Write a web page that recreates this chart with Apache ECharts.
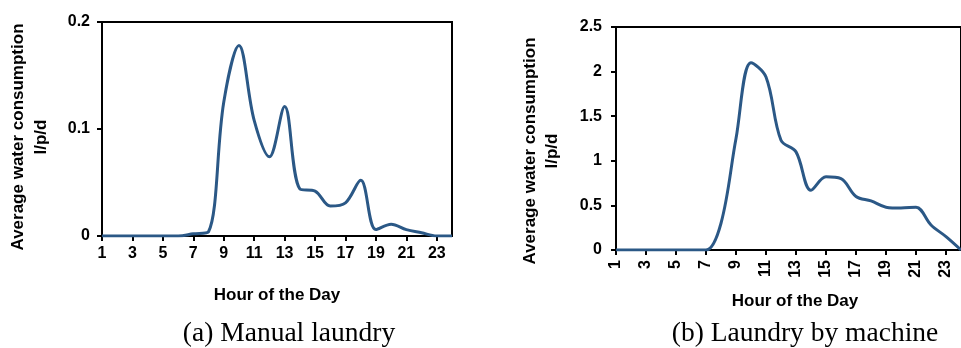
<!DOCTYPE html>
<html>
<head>
<meta charset="utf-8">
<script src="https://cdn.jsdelivr.net/npm/echarts@6/dist/echarts.min.js"></script>
<style>html,body{margin:0;padding:0;background:#fff}#c{width:961px;height:348px}</style>
</head>
<body>
<div id="c"></div>
<script>
var hours = ['1','2','3','4','5','6','7','8','9','10','11','12','13','14','15','16','17','18','19','20','21','22','23','24'];
var manualLaundry = [0,0,0,0,0,0,0.002,0.004,0.125,0.178,0.108,0.074,0.121,0.044,0.042,0.028,0.031,0.052,0.006,0.011,0.006,0.003,0,0];
var machineLaundry = [0,0,0,0,0,0,0,0.3,1.25,2.1,1.94,1.23,1.10,0.67,0.82,0.80,0.60,0.55,0.48,0.47,0.48,0.28,0.15,0];
var yTitle = 'Average water consumption\nl/p/d';
var xTitle = 'Hour of the Day';
var captionA = '(a) Manual laundry';
var captionB = '(b) Laundry by machine';

var LINE = '#2b5886';
var SANS = 'Liberation Sans, Arial, sans-serif';
var SERIF = 'Liberation Serif, Times New Roman, serif';

function xAx(gi, rotate){
  return {
    type:'category', gridIndex:gi, data:hours, boundaryGap:false,
    axisLine:{lineStyle:{color:'#000',width:2}},
    axisTick:{show:true, interval:1, length:5, lineStyle:{color:'#000',width:2}},
    axisLabel:{interval:1, rotate:rotate, margin:10, color:'#000', fontWeight:'bold', fontSize:16, fontFamily:SANS},
    splitLine:{show:false}
  };
}
function yAx(gi, max, interval, margin){
  return {
    type:'value', gridIndex:gi, min:0, max:max, interval:interval,
    axisLine:{show:true, lineStyle:{color:'#000',width:2}},
    axisTick:{show:true, length:5, lineStyle:{color:'#000',width:2}},
    axisLabel:{margin:margin, color:'#000', fontWeight:'bold', fontSize:16, fontFamily:SANS},
    splitLine:{show:false}
  };
}
function txt(x,y,text,font,size,weight,rot,lh){
  return {type:'text', x:x, y:y, rotation:rot||0, silent:true,
    style:{text:text, x:0, y:0, align:'center', verticalAlign:'middle', fill:'#000',
      font: weight+' '+size+'px '+font, lineHeight: lh||size*1.2}};
}

var chart = echarts.init(document.getElementById('c'), null, {renderer:'canvas'});
chart.setOption({
  animation:false,
  backgroundColor:'#fff',
  grid:[
    {left:102, top:22, width:350, height:214, show:true, borderColor:'#000', borderWidth:2, backgroundColor:'transparent'},
    {left:616, top:27, width:352, height:223, show:true, borderColor:'#000', borderWidth:2, backgroundColor:'transparent'}
  ],
  xAxis:[xAx(0,0), xAx(1,90)],
  yAxis:[yAx(0,0.2,0.1,12), yAx(1,2.5,0.5,14)],
  series:[
    {type:'line', xAxisIndex:0, yAxisIndex:0, data:manualLaundry, smooth:0.35, showSymbol:false,
      lineStyle:{color:LINE, width:3}},
    {type:'line', xAxisIndex:1, yAxisIndex:1, data:machineLaundry, smooth:0.35, showSymbol:false,
      lineStyle:{color:LINE, width:3}}
  ],
  graphic:[
    txt(30,137,yTitle,SANS,17,'bold',Math.PI/2,23),
    txt(541,151,yTitle,SANS,17,'bold',Math.PI/2,22),
    txt(277,295,xTitle,SANS,17,'bold'),
    txt(795,301,xTitle,SANS,17,'bold'),
    txt(289,334,captionA,SERIF,27.5,'normal'),
    txt(805,334,captionB,SERIF,27.5,'normal')
  ]
});
</script>
</body>
</html>
